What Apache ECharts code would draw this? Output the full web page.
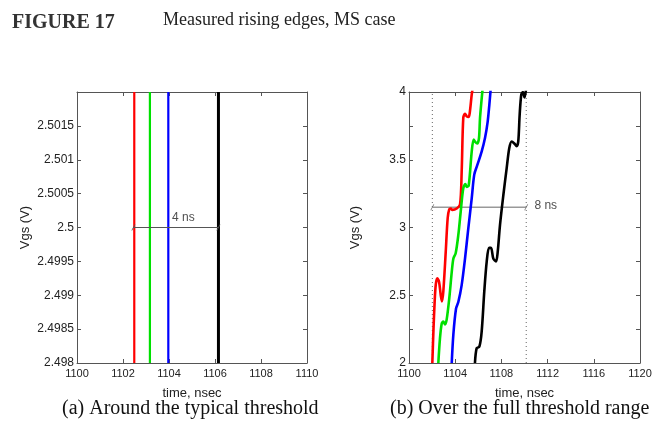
<!DOCTYPE html>
<html>
<head>
<meta charset="utf-8">
<script src="https://cdn.jsdelivr.net/npm/echarts@6/dist/echarts.min.js"></script>
<style>
html,body{margin:0;padding:0;background:#fff;}
#c{width:663px;height:431px;}
</style>
</head>
<body>
<div id="c"></div>
<script>
// ---- Texts ----
const figLabel = 'FIGURE 17';
const figTitle = 'Measured rising edges, MS case';
const captionA = '(a) Around the typical threshold';
const captionB = '(b) Over the full threshold range';
const yName = 'Vgs (V)';
const xName = 'time, nsec';

// ---- Panel (a) axes ----
const aXTicks = [1100, 1102, 1104, 1106, 1108, 1110];
const aYTicks = [2.498, 2.4985, 2.499, 2.4995, 2.5, 2.5005, 2.501, 2.5015, 2.502];
// crossing times at 2.5 V (red, green, blue, black)
const aEdgeTimes = [1102.49, 1103.17, 1103.97, 1106.15];
const edgeColors = ['#ff0000', '#00e000', '#0000ff', '#000000'];
const aArrowX = [1102.45, 1106.15];
const aArrowY = 2.5;
const aArrowText = '4 ns';
const aArrowTextX = 1104.15;

// ---- Panel (b) axes ----
const bXTicks = [1100, 1104, 1108, 1112, 1116, 1120];
const bYTicks = [2, 2.25, 2.5, 2.75, 3, 3.25, 3.5, 3.75, 4];
const bDotX = [1102.02, 1110.15];
const bArrowY = 3.15;
const bArrowText = '8 ns';
const bArrowTextX = 1110.9;

// ---- Panel (b) waveforms ----
const redT = [1102.02,1102.12,1102.22,1102.32,1102.45,1102.6,1102.75,1102.85,1102.97,1103.18,1103.35,1103.49,1103.62,1103.75,1104.13,1104.42,1104.56,1104.7,1104.85,1105.0,1105.15,1105.25,1105.43,1105.52];
const redV = [2.0,2.25,2.45,2.58,2.625,2.6,2.5,2.455,2.526,2.82,3.07,3.135,3.14,3.13,3.14,3.17,3.41,3.81,3.84,3.82,3.815,3.84,3.98,4.03];
const greenT = [1102.54,1102.68,1102.83,1102.97,1103.12,1103.26,1103.49,1103.7,1103.84,1104.04,1104.27,1104.48,1104.7,1104.88,1105.0,1105.17,1105.43,1105.6,1105.75,1105.91,1106.06,1106.15,1106.38];
const greenV = [2.0,2.18,2.29,2.305,2.285,2.32,2.48,2.67,2.77,2.81,2.945,3.12,3.29,3.32,3.30,3.31,3.56,3.65,3.63,3.62,3.66,3.81,4.03];
const blueT = [1103.7,1103.84,1104.07,1104.27,1104.56,1104.85,1105.13,1105.43,1105.65,1105.91,1106.29,1106.58,1106.81,1106.95,1107.08];
const blueV = [2.0,2.21,2.40,2.45,2.575,2.77,2.99,3.215,3.39,3.46,3.56,3.66,3.78,3.90,4.03];
const blackT = [1105.71,1105.86,1106.09,1106.29,1106.52,1106.73,1106.93,1107.1,1107.3,1107.53,1107.68,1107.88,1108.17,1108.46,1108.68,1108.89,1109.12,1109.32,1109.46,1109.58,1109.72,1109.86,1110.0,1110.15];
const blackV = [2.0,2.11,2.12,2.23,2.53,2.75,2.85,2.85,2.77,2.75,2.82,3.02,3.24,3.44,3.585,3.635,3.62,3.60,3.635,3.83,3.98,4.0,3.96,4.03];

// ---- helpers ----
const SANS = 'Liberation Sans, Arial, sans-serif';
const SERIF = 'Liberation Serif, Times New Roman, serif';
const AXIS_COLOR = '#555';
const TEXT_COLOR = '#222';
const zip = (a, b) => a.map((v, i) => [v, b[i]]);
const step = t => +(t[1] - t[0]).toFixed(6);
const plainFmt = v => String(+v.toFixed(4));

function xAx(grid, ticks, pos, showLabels) {
  return {
    type: 'value', gridIndex: grid, position: pos,
    min: ticks[0], max: ticks[ticks.length - 1], interval: step(ticks),
    name: showLabels ? xName : '', nameLocation: 'middle', nameGap: 24,
    nameTextStyle: { fontFamily: SANS, fontSize: 13, color: TEXT_COLOR },
    axisLine: { show: true, onZero: false, lineStyle: { color: AXIS_COLOR, width: 1 } },
    axisTick: { show: true, inside: true, length: 4, lineStyle: { color: AXIS_COLOR } },
    axisLabel: { show: showLabels, fontFamily: SANS, fontSize: 11, color: TEXT_COLOR, margin: 5, formatter: plainFmt },
    splitLine: { show: false }
  };
}
function yAx(grid, ticks, pos, showLabels, gap, fmt, hideMax) {
  return {
    type: 'value', gridIndex: grid, position: pos,
    min: ticks[0], max: ticks[ticks.length - 1], interval: step(ticks),
    name: showLabels ? yName : '', nameLocation: 'middle', nameGap: gap,
    nameTextStyle: { fontFamily: SANS, fontSize: 13, color: TEXT_COLOR },
    axisLine: { show: true, onZero: false, lineStyle: { color: AXIS_COLOR, width: 1 } },
    axisTick: { show: true, inside: true, length: 4, lineStyle: { color: AXIS_COLOR } },
    axisLabel: { show: showLabels, fontFamily: SANS, fontSize: 12, color: TEXT_COLOR, margin: 3,
                 showMaxLabel: !hideMax, formatter: fmt || plainFmt },
    splitLine: { show: false }
  };
}
const slash = 'path://M0,10 L2,10 L10,0 L8,0 Z';

const series = [];
// panel (a) vertical edges
aEdgeTimes.forEach((t, i) => {
  series.push({
    type: 'line', xAxisIndex: 0, yAxisIndex: 0, symbol: 'none', silent: true,
    data: [[t, aYTicks[0]], [t, aYTicks[aYTicks.length - 1]]],
    lineStyle: { color: edgeColors[i], width: i === 3 ? 3 : 2.2 }
  });
});
series.push({
  type: 'line', xAxisIndex: 0, yAxisIndex: 0, silent: true,
  data: aArrowX.map(x => [x, aArrowY]),
  symbol: slash, symbolSize: [4, 6], itemStyle: { color: '#555' },
  lineStyle: { color: '#555', width: 1 }, z: 3
});
series.push({
  type: 'scatter', xAxisIndex: 0, yAxisIndex: 0, silent: true,
  data: [[aArrowTextX, aArrowY]], symbolSize: 1, itemStyle: { color: 'rgba(0,0,0,0)' },
  label: { show: true, position: [0, -15], formatter: aArrowText, fontFamily: SANS, fontSize: 12, color: TEXT_COLOR }
});
// panel (b)
bDotX.forEach(x => {
  series.push({
    type: 'line', xAxisIndex: 2, yAxisIndex: 2, symbol: 'none', silent: true,
    data: [[x, bYTicks[0]], [x, bYTicks[bYTicks.length - 1]]],
    lineStyle: { color: '#666', width: 1, type: [1, 3] }
  });
});
series.push({
  type: 'line', xAxisIndex: 2, yAxisIndex: 2, silent: true,
  data: bDotX.map(x => [x, bArrowY]),
  symbol: slash, symbolSize: [4, 6], itemStyle: { color: '#777' },
  lineStyle: { color: '#999', width: 1.6 }, z: 1
});
series.push({
  type: 'scatter', xAxisIndex: 2, yAxisIndex: 2, silent: true,
  data: [[bArrowTextX, bArrowY]], symbolSize: 1, itemStyle: { color: 'rgba(0,0,0,0)' },
  label: { show: true, position: [0, -7], formatter: bArrowText, fontFamily: SANS, fontSize: 12, color: TEXT_COLOR }
});
[[redT, redV], [greenT, greenV], [blueT, blueV], [blackT, blackV]].forEach((d, i) => {
  series.push({
    type: 'line', xAxisIndex: 2, yAxisIndex: 2, symbol: 'none', silent: true, clip: true,
    smooth: 0.3, data: zip(d[0], d[1]),
    lineStyle: { color: edgeColors[i], width: 2.6 }, z: 4
  });
});

const halfFmt = v => (Math.abs(v * 2 - Math.round(v * 2)) < 1e-9 ? String(+v.toFixed(3)) : '');

const option = {
  animation: false,
  backgroundColor: '#ffffff',
  title: [
    { text: figLabel, left: 12, top: 13, padding: 0,
      textStyle: { fontFamily: SERIF, fontSize: 20, fontWeight: 'bold', color: '#333' } },
    { text: figTitle, left: 163, top: 11, padding: 0,
      textStyle: { fontFamily: SERIF, fontSize: 18, fontWeight: 'normal', color: '#222' } },
    { text: captionA, left: 62, top: 399, padding: 0,
      textStyle: { fontFamily: SERIF, fontSize: 20, fontWeight: 'normal', color: '#111' } },
    { text: captionB, left: 390, top: 399, padding: 0,
      textStyle: { fontFamily: SERIF, fontSize: 20, fontWeight: 'normal', color: '#111' } }
  ],
  grid: [
    { left: 77, right: 356, top: 92, bottom: 68, containLabel: false, outerBoundsMode: 'none' },
    { left: 409, right: 23, top: 92, bottom: 68, containLabel: false, outerBoundsMode: 'none' }
  ],
  xAxis: [
    xAx(0, aXTicks, 'bottom', true),
    xAx(0, aXTicks, 'top', false),
    xAx(1, bXTicks, 'bottom', true),
    xAx(1, bXTicks, 'top', false)
  ],
  yAxis: [
    yAx(0, aYTicks, 'left', true, 45, null, true),
    yAx(0, aYTicks, 'right', false, 0, null, true),
    yAx(1, bYTicks, 'left', true, 47, halfFmt, false),
    yAx(1, bYTicks, 'right', false, 0, null, false)
  ],
  series: series
};
const chart = echarts.init(document.getElementById('c'), null, { renderer: 'canvas' });
chart.setOption(option);
</script>
</body>
</html>
